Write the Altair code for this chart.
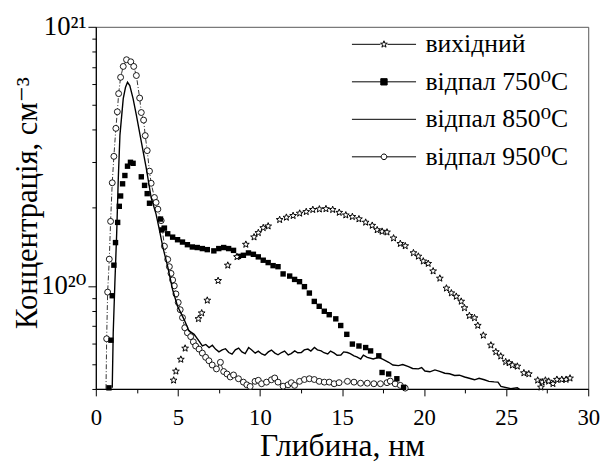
import math
import altair as alt
import pandas as pd

# ---------------- data (concentration in units of 1e20 cm^-3) ----------------
series_names = ["вихідний", "відпал 750⁰C", "відпал 850⁰C", "відпал 950⁰C"]
UNIT = 1e20

star_x = [4.74, 4.88, 5.18, 5.44, 6.25, 6.45, 6.79, 7.45, 8.04, 8.60, 9.14, 9.64,
          9.90, 10.20, 10.50, 11.20, 11.61, 12.02, 12.42, 12.82, 13.22, 13.62, 14.02,
          14.43, 14.83, 15.23, 15.63, 16.03, 16.44, 16.84, 17.14, 17.44, 17.74, 18.14,
          18.55, 18.85, 19.35, 19.65, 19.95, 20.25, 20.55, 20.96, 21.36, 21.66, 21.96,
          22.26, 22.46, 22.76, 23.07, 23.27, 23.61, 24.07, 24.37, 24.67, 24.97, 25.18,
          25.38, 25.68, 26.08, 26.38, 26.92, 27.19, 27.39, 27.59, 27.85, 28.09, 28.39,
          28.65, 28.89, 27.12]
star_y = [0.432, 0.468, 0.520, 0.574, 0.746, 0.785, 0.879, 1.047, 1.20, 1.294, 1.445, 1.542,
          1.603, 1.675, 1.70, 1.80, 1.837, 1.866, 1.905, 1.932, 1.968, 1.977, 1.982,
          1.968, 1.919, 1.875, 1.849, 1.811, 1.758, 1.710, 1.644, 1.622, 1.611, 1.528,
          1.455, 1.426, 1.340, 1.300, 1.245, 1.219, 1.140, 1.069, 0.979, 0.938, 0.910,
          0.871, 0.822, 0.767, 0.752, 0.703, 0.644, 0.590, 0.556, 0.535, 0.509, 0.504,
          0.494, 0.489, 0.461, 0.457, 0.432, 0.425, 0.432, 0.428, 0.419, 0.435, 0.435,
          0.435, 0.440, 0.406]

sq_x = [0.80, 0.92, 1.00, 1.10, 1.20, 1.33, 1.43, 1.51, 1.63, 1.77, 1.93, 2.11, 2.27,
        2.77, 2.97, 3.13, 3.27, 3.94, 4.02, 4.18, 4.38, 4.68, 4.98, 5.28, 5.58, 5.88,
        6.18, 6.49, 6.79, 7.19, 7.49, 7.79, 8.09, 8.39, 8.69, 8.99, 9.30, 9.60, 9.90,
        10.20, 10.50, 10.80, 11.10, 11.41, 11.81, 12.11, 12.41, 12.71, 13.01, 13.31,
        13.61, 13.92, 14.22, 14.62, 14.92, 15.29, 15.63, 16.03, 16.44, 16.74, 17.24,
        17.44, 17.84, 18.34, 18.75]
sq_y = [0.404, 0.617, 0.916, 1.202, 1.469, 1.758, 2.028, 2.223, 2.477, 2.667, 2.897, 2.999,
        2.972, 2.636, 2.443, 2.270, 2.084, 1.811, 1.644, 1.671, 1.589, 1.542, 1.507, 1.476,
        1.442, 1.413, 1.406, 1.393, 1.380, 1.365, 1.393, 1.406, 1.393, 1.371, 1.300, 1.312,
        1.340, 1.324, 1.294, 1.256, 1.230, 1.197, 1.186, 1.112, 1.091, 1.059, 1.038, 0.993,
        0.938, 0.871, 0.834, 0.798, 0.774, 0.746, 0.703, 0.650, 0.596, 0.586, 0.578, 0.561,
        0.537, 0.463, 0.457, 0.438, 0.406]

line_x = [1.00, 1.06, 1.16, 1.27, 1.37, 1.47, 1.67, 1.81, 1.93, 2.07, 2.27, 2.47, 2.77,
          3.07, 3.37, 3.67, 3.88, 4.08, 4.38, 4.68, 4.98, 5.38, 5.68, 5.99, 6.29, 6.49,
          6.70, 6.90, 7.10, 7.29, 7.50, 7.70, 7.90, 8.10, 8.30, 8.50, 8.70, 8.90, 9.10,
          9.31, 9.50, 9.71, 9.90, 10.11, 10.30, 10.51, 10.70, 10.91, 11.10, 11.31, 11.50,
          11.72, 11.90, 12.12, 12.30, 12.52, 12.70, 12.92, 13.10, 13.32, 13.50, 13.73,
          13.90, 14.13, 14.30, 14.53, 14.70, 14.93, 15.10, 15.33, 15.50, 15.73, 15.90,
          16.14, 16.30, 16.54, 16.90, 17.24, 17.50, 17.84, 18.10, 18.44, 18.70, 19.05,
          19.30, 19.65, 19.85, 20.05, 20.35, 20.66, 20.95, 21.26, 21.55, 21.86, 22.15,
          22.47, 22.75, 23.07, 23.35, 23.67, 23.95, 24.27, 24.50, 24.68, 25.28, 25.68, 25.90]
line_y = [0.404, 0.659, 1.023, 1.589, 2.612, 3.828, 5.284, 5.848, 6.109, 5.929, 5.284, 4.560,
          3.606, 2.851, 2.193, 1.892, 1.637, 1.413, 1.186, 0.966, 0.834, 0.741, 0.670, 0.650,
          0.612, 0.586, 0.594, 0.578, 0.590, 0.570, 0.556, 0.566, 0.572, 0.553, 0.545, 0.566,
          0.575, 0.556, 0.548, 0.578, 0.566, 0.550, 0.560, 0.546, 0.540, 0.556, 0.565, 0.550,
          0.542, 0.553, 0.560, 0.541, 0.548, 0.561, 0.552, 0.553, 0.566, 0.570, 0.560, 0.578,
          0.566, 0.561, 0.552, 0.546, 0.560, 0.550, 0.540, 0.541, 0.556, 0.553, 0.548, 0.537,
          0.532, 0.522, 0.540, 0.530, 0.522, 0.530, 0.520, 0.507, 0.495, 0.492, 0.497, 0.488,
          0.480, 0.478, 0.484, 0.469, 0.466, 0.474, 0.468, 0.460, 0.458, 0.451, 0.452, 0.445,
          0.440, 0.434, 0.440, 0.434, 0.428, 0.426, 0.425, 0.409, 0.401, 0.404, 0.395]

circ_x = [0.66, 0.72, 0.82, 0.90, 1.00, 1.10, 1.22, 1.31, 1.39, 1.51, 1.67, 1.87, 2.13,
          2.31, 2.47, 2.67, 2.77, 2.91, 3.01, 3.13, 3.27, 3.37, 3.57, 3.67, 3.78, 3.98,
          4.18, 4.38, 4.48, 4.58, 4.68, 4.78, 4.88, 5.02, 5.14, 5.28, 5.42, 5.58, 5.78,
          5.94, 6.08, 6.29, 6.49, 6.69, 6.89, 7.09, 7.35, 7.59, 7.79, 7.99, 8.19, 8.39,
          8.69, 8.99, 9.20, 9.40, 9.70, 9.90, 10.10, 10.40, 10.70, 10.90, 11.10, 11.41,
          11.71, 11.91, 12.11, 12.41, 12.71, 13.01, 13.31, 13.61, 13.92, 14.22, 14.52,
          14.82, 15.33, 15.73, 16.13, 16.54, 16.94, 17.34, 17.74, 17.94, 18.24, 18.55, 18.85]
circ_y = [0.625, 0.946, 1.268, 1.774, 2.500, 3.162, 4.055, 4.699, 5.521, 6.383, 7.031, 7.464,
          7.328, 7.031, 6.486, 5.309, 4.667, 4.365, 3.802, 3.327, 2.773, 2.489, 2.193, 2.099,
          1.977, 1.786, 1.422, 1.265, 1.186, 1.117, 1.054, 1.000, 0.931, 0.863, 0.809, 0.754,
          0.689, 0.659, 0.637, 0.608, 0.586, 0.570, 0.550, 0.530, 0.514, 0.495, 0.478, 0.507,
          0.467, 0.457, 0.445, 0.453, 0.438, 0.425, 0.415, 0.409, 0.428, 0.432, 0.419, 0.425,
          0.434, 0.441, 0.425, 0.410, 0.415, 0.423, 0.413, 0.428, 0.435, 0.438, 0.435, 0.428,
          0.425, 0.425, 0.419, 0.423, 0.428, 0.425, 0.421, 0.421, 0.419, 0.419, 0.423, 0.429,
          0.419, 0.413, 0.403]
# dash-dot connecting line of the 950 series reaches the axis here
circ_line_start_x = [0.62]
circ_line_start_y = [0.40]

x_ticks = [0, 2.5, 5, 7.5, 10, 12.5, 15, 17.5, 20, 22.5, 25, 27.5, 30]
y_ticks = [k * 1e19 for k in range(4, 10)] + [k * 1e20 for k in range(1, 10)] + [1e21]

# ---------------- frames ----------------
df_star = pd.DataFrame({"x": star_x, "y": [v * UNIT for v in star_y]})
df_sq = pd.DataFrame({"x": sq_x, "y": [v * UNIT for v in sq_y]})
df_line = pd.DataFrame({"x": line_x, "y": [v * UNIT for v in line_y]})
df_circ = pd.DataFrame({"x": circ_x, "y": [v * UNIT for v in circ_y]})
df_circ_line = pd.DataFrame({"x": circ_line_start_x + circ_x,
                             "y": [v * UNIT for v in circ_line_start_y + circ_y]})
df_legend = pd.DataFrame({"series": series_names, "x": [1.0] * 4, "y": [1e20] * 4})

FONT = "Liberation Serif, Times New Roman, DejaVu Serif, serif"

x_enc = alt.X(
    "x:Q",
    scale=alt.Scale(domain=[0, 30], nice=False, zero=False),
    axis=alt.Axis(
        values=x_ticks,
        labelExpr="datum.value % 5 == 0 ? format(datum.value, 'd') : ''",
        tickSize={"condition": {"test": "datum.value % 5 == 0", "value": 7}, "value": 4},
        grid=False, labelFlush=False, labelOverlap=False,
        labelFont=FONT, labelFontSize=23, labelColor="black", labelPadding=11,
        domainColor="black", domainWidth=1.2, tickColor="black", tickWidth=1,
        title="Глибина, нм", titleFont=FONT, titleFontSize=32, titleFontWeight="normal",
        titleColor="black", titleBaseline="alphabetic", titleY=67,
    ),
)
y_enc = alt.Y(
    "y:Q",
    scale=alt.Scale(type="log", domain=[4e19, 1e21], nice=False),
    axis=alt.Axis(
        values=y_ticks,
        labelExpr="datum.value == 1e21 ? '10²¹' : (datum.value == 1e20 ? '10²⁰' : '')",
        tickSize={"condition": {"test": "datum.value == 1e20 || datum.value == 1e21", "value": 8}, "value": 4},
        grid=False, labelOverlap=False, labelFlush=False,
        labelFont=FONT, labelFontSize=27, labelColor="black", labelPadding=2,
        domainColor="black", domainWidth=1.2, tickColor="black", tickWidth=1,
        title="Концентрація, см⁻³", titleFont=FONT, titleFontSize=31, titleFontWeight="normal",
        titleColor="black", titleBaseline="alphabetic", titleAngle=270, titleX=-60, titleY=178,
    ),
)

# star symbol (unit radius) as an SVG path
def star_path(R, r, cx=0.0):
    pts = []
    for k in range(10):
        ang = math.radians(-90 + 36 * k)
        rad = R if k % 2 == 0 else r
        pts.append(f"{cx + rad * math.cos(ang):.4f},{rad * math.sin(ang):.4f}")
    return "M" + "L".join(pts) + "Z"

STAR = star_path(1.0, 0.42)

# legend symbols: line segment with marker (unit = half of symbol width)
m = 0.11
legend_paths = [
    f"M-1,0L{-m:.3f},0M{m:.3f},0L1,0" + star_path(m, 0.045),
    f"M-1,0L1,0M{-m*0.9:.3f},{-m*0.9:.3f}L{m*0.9:.3f},{-m*0.9:.3f}L{m*0.9:.3f},{m*0.9:.3f}L{-m*0.9:.3f},{m*0.9:.3f}Z",
    "M-1,0L1,0",
    f"M-1,0L{-m*0.8:.3f},0M{m*0.8:.3f},0L1,0M{-m*0.8:.3f},0A{m*0.8:.3f},{m*0.8:.3f},0,1,0,{m*0.8:.3f},0A{m*0.8:.3f},{m*0.8:.3f},0,1,0,{-m*0.8:.3f},0Z",
]

leg = alt.Legend(
    title=None, orient="none", legendX=259, legendY=-1, direction="vertical",
    symbolSize=4225, symbolStrokeWidth=1, symbolStrokeColor="black",
    clipHeight=37.5, rowPadding=0, padding=0, labelOffset=9,
    labelFont=FONT, labelFontSize=26, labelColor="black", labelLimit=300,
)

circ_line = alt.Chart(df_circ_line).mark_line(
    color="black", strokeWidth=0.8, strokeDash=[5, 2, 1, 2], clip=True
).encode(x=x_enc, y=y_enc)

circles = alt.Chart(df_circ).mark_point(
    shape="circle", size=36, fill="white", stroke="black", strokeWidth=0.9, opacity=1, filled=False
).encode(x=x_enc, y=y_enc)

squares = alt.Chart(df_sq).mark_point(
    shape="square", size=30, filled=True, color="black", opacity=1
).encode(x=x_enc, y=y_enc)

line850 = alt.Chart(df_line).mark_line(
    color="black", strokeWidth=1.4, clip=True
).encode(x=x_enc, y=y_enc)

stars = alt.Chart(df_star).mark_point(
    shape=STAR, size=52, fill="white", stroke="black", strokeWidth=1, opacity=1, filled=False
).encode(x=x_enc, y=y_enc)

legend_layer = alt.Chart(df_legend).transform_filter("false").mark_point(
    stroke="black", strokeWidth=1, opacity=1
).encode(
    x=x_enc, y=y_enc,
    shape=alt.Shape("series:N", scale=alt.Scale(domain=series_names, range=legend_paths), legend=leg),
    fill=alt.Fill("series:N", scale=alt.Scale(domain=series_names, range=["white", "black", "white", "white"]), legend=leg),
    stroke=alt.Stroke("series:N", scale=alt.Scale(domain=series_names, range=["black", "black", "black", "black"]), legend=leg),
)

chart = alt.layer(circ_line, circles, squares, line850, stars, legend_layer).properties(
    width=499, height=367,
    autosize=alt.AutoSizeParams(type="none"),
    padding={"left": 89, "top": 16, "right": 18, "bottom": 74},
    background="white",
).configure_view(stroke="#555555", strokeWidth=1)

chart.save("out.html", embed_options={"renderer": "svg", "actions": False})
